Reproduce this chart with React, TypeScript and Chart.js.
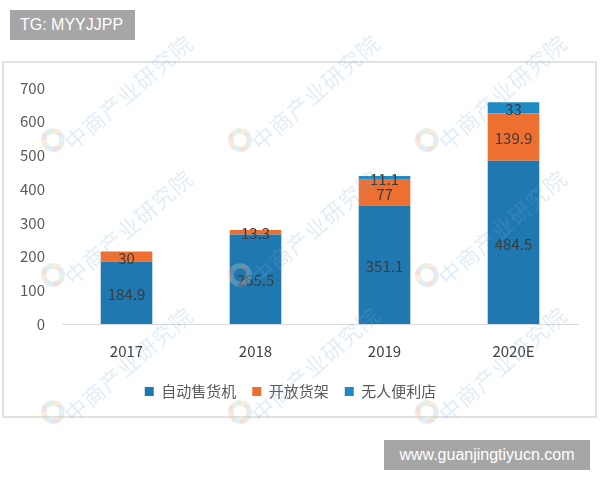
import React, { useEffect, useRef } from "react";
import { Chart, registerables } from "chart.js";

Chart.register(...registerables);

const categories = ["2017", "2018", "2019", "2020E"];
const seriesNames = ["自动售货机", "开放货架", "无人便利店"];
const vendingMachines = [184.9, 265.5, 351.1, 484.5];
const openShelves = [30, 13.3, 77, 139.9];
const unmannedStores = [null, null, 11.1, 33];
const yTicks = [0, 100, 200, 300, 400, 500, 600, 700];
const seriesColors = ["#1f78b0", "#ed7031", "#1e8bc5"];

const FONT = "'Noto Sans CJK SC', 'Noto Sans', sans-serif";

const watermarkSpots = [
  [53, 140], [240, 140], [427, 140],
  [53, 275], [240, 275], [427, 275],
  [53, 412], [240, 412], [427, 412],
];

const valueLabels = {
  id: "valueLabels",
  afterDatasetsDraw(chart: any) {
    const ctx = chart.ctx;
    ctx.save();
    ctx.font = `15px ${FONT}`;
    ctx.fillStyle = "#3b3b3b";
    ctx.textAlign = "center";
    ctx.textBaseline = "middle";
    chart.data.datasets.forEach((ds: any, i: number) => {
      const meta = chart.getDatasetMeta(i);
      meta.data.forEach((bar: any, j: number) => {
        const v = ds.data[j];
        if (v == null) return;
        const { x, y, base } = bar.getProps(["x", "y", "base"], true);
        ctx.fillText(String(v), x, (y + base) / 2 + 1.5);
      });
    });
    ctx.restore();
  },
};

function ChartCanvas() {
  const ref = useRef<HTMLCanvasElement | null>(null);
  useEffect(() => {
    if (!ref.current) return;
    const chart = new Chart(ref.current, {
      type: "bar",
      data: {
        labels: categories,
        datasets: [
          { label: seriesNames[0], data: vendingMachines, backgroundColor: seriesColors[0] },
          { label: seriesNames[1], data: openShelves, backgroundColor: seriesColors[1] },
          { label: seriesNames[2], data: unmannedStores as any, backgroundColor: seriesColors[2] },
        ],
      },
      options: {
        responsive: false,
        animation: false,
        datasets: { bar: { barPercentage: 0.4, categoryPercentage: 1 } },
        layout: { padding: { top: 17, right: 18, left: 0, bottom: 8 } },
        plugins: {
          tooltip: { enabled: false },
          legend: {
            position: "bottom",
            labels: {
              boxWidth: 9,
              boxHeight: 9,
              padding: 16,
              color: "#595959",
              font: { size: 15, family: FONT },
            },
          },
        },
        scales: {
          x: {
            stacked: true,
            grid: { display: false, drawTicks: false },
            border: { display: true, color: "#d9d9d9", width: 1 },
            ticks: { padding: 18, color: "#404040", font: { size: 15, family: FONT } },
            afterFit: (s: any) => { s.height = 44; },
          },
          y: {
            stacked: true,
            min: 0,
            max: 700,
            grid: { display: false, drawTicks: false },
            border: { display: false },
            afterBuildTicks: (s: any) => { s.ticks = yTicks.map((v) => ({ value: v })); },
            ticks: { padding: 17, color: "#595959", font: { size: 15, family: FONT } },
            afterFit: (s: any) => { s.width = 59; },
          },
        },
      },
      plugins: [valueLabels],
    });
    return () => chart.destroy();
  }, []);
  return <canvas ref={ref} width={593} height={355} style={{ display: "block" }} />;
}

export default function App() {
  return (
    <div style={{ position: "absolute", left: 0, top: 0, width: 600, height: 480, background: "#fff", overflow: "hidden", fontFamily: FONT }}>
      <div style={{ position: "absolute", left: 10, top: 10, width: 125, height: 30, background: "#a6a6a6", color: "#fff", fontFamily: "'Liberation Sans', Arial, sans-serif", fontSize: 16, lineHeight: "30px", paddingLeft: 10, boxSizing: "border-box" }}>
        TG: MYYJJPP
      </div>
      <div style={{ position: "absolute", left: 2, top: 61, width: 595, height: 357, border: "2px solid #e2e2e2", boxSizing: "border-box" }} />
      <div style={{ position: "absolute", left: 3, top: 62 }}>
        <ChartCanvas />
      </div>
      {watermarkSpots.map(([x, y], i) => (
        <div key={i} style={{ position: "absolute", left: x - 12, top: y - 12, pointerEvents: "none" }}>
          <div style={{ width: 24, height: 24, borderRadius: "50%", boxSizing: "border-box", border: "5px solid transparent", background: "conic-gradient(#e8a0a0 0 25%, #f2c79a 25% 45%, #a8d8b0 45% 70%, #a8cce8 70% 100%)", opacity: 0.35, WebkitMask: "radial-gradient(circle, transparent 6px, #000 7px)" } as any} />
          <div style={{ position: "absolute", left: 26, top: 0, whiteSpace: "nowrap", fontSize: 22, color: "rgba(120,175,215,0.22)", transform: "rotate(-41deg)", transformOrigin: "left center", letterSpacing: 1 }}>
            中商产业研究院
          </div>
        </div>
      ))}
      <div style={{ position: "absolute", left: 384, top: 440, width: 206, height: 30, background: "#a6a6a6", color: "#fff", fontFamily: "'Liberation Sans', Arial, sans-serif", fontSize: 16, lineHeight: "30px", textAlign: "center" }}>
        www.guanjingtiyucn.com
      </div>
    </div>
  );
}
